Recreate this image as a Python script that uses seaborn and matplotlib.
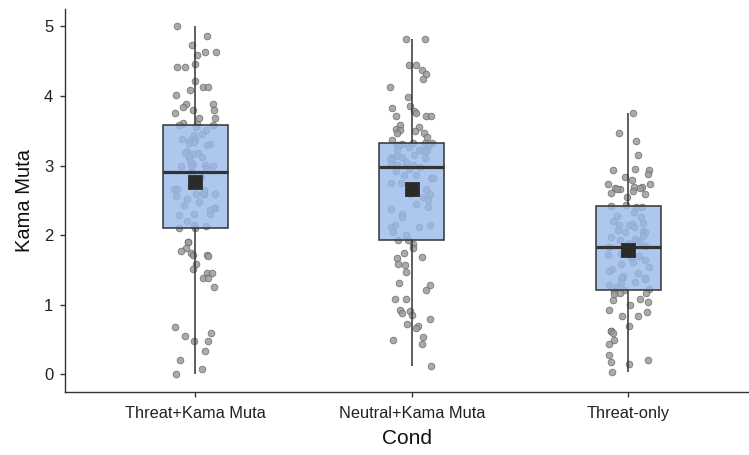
import numpy as np
import pandas as pd
import matplotlib.pyplot as plt
import seaborn as sns

# condition order on the x axis
conds = ["Threat+Kama Muta", "Neutral+Kama Muta", "Threat-only"]

# Kama Muta scores, one list per condition
threat_km = [
    5.00, 4.87, 4.73, 4.63, 4.63, 4.59, 4.46, 4.42, 4.42, 4.21, 4.13, 4.13, 4.09,
    4.01, 3.88, 3.88, 3.84, 3.80, 3.80, 3.75, 3.68, 3.68, 3.62, 3.60, 3.58, 3.58,
    3.56, 3.51, 3.46, 3.44, 3.39, 3.38, 3.37, 3.34, 3.32, 3.31, 3.30, 3.21, 3.18,
    3.18, 3.17, 3.13, 3.13, 3.06, 3.03, 3.01, 2.99, 2.99, 2.99, 2.96, 2.91, 2.89,
    2.84, 2.79, 2.74, 2.66, 2.66, 2.65, 2.59, 2.59, 2.59, 2.59, 2.56, 2.52, 2.48,
    2.44, 2.39, 2.39, 2.36, 2.31, 2.30, 2.29, 2.20, 2.15,
    2.13, 2.11, 2.10, 1.90, 1.90, 1.82, 1.78, 1.75, 1.71, 1.71, 1.70, 1.58, 1.51,
    1.46, 1.45, 1.38, 1.38, 1.25, 0.68, 0.59, 0.55, 0.48, 0.48, 0.34, 0.20, 0.07,
    0.00,
]
neutral_km = [
    4.82, 4.82, 4.45, 4.44, 4.37, 4.31, 4.24, 4.13, 3.98, 3.86, 3.83, 3.79, 3.75,
    3.71, 3.71, 3.71, 3.58, 3.55, 3.53, 3.51, 3.50, 3.47, 3.47, 3.41, 3.37,
    3.33, 3.33, 3.32, 3.31, 3.29, 3.29, 3.29, 3.29, 3.27, 3.23, 3.23, 3.23, 3.23,
    3.20, 3.15, 3.14, 3.12, 3.12, 3.11, 3.10, 3.09, 3.05, 3.01, 3.01, 3.01, 3.01,
    2.98,
    2.95, 2.93, 2.87, 2.87, 2.82, 2.82, 2.75, 2.75, 2.67, 2.59, 2.59, 2.55, 2.50,
    2.45, 2.40, 2.37, 2.30, 2.26, 2.15, 2.15, 2.12, 2.12, 2.04, 2.00, 1.93, 1.93,
    1.87, 1.81, 1.75, 1.68, 1.67, 1.58, 1.57, 1.47, 1.32, 1.28, 1.21, 1.09, 1.08,
    0.93, 0.91, 0.88, 0.86, 0.79, 0.73, 0.69, 0.67, 0.54, 0.50, 0.43, 0.12,
]
threat_only = [
    3.75, 3.47, 3.35, 3.16, 2.95, 2.94, 2.94, 2.88, 2.83, 2.80, 2.74, 2.74, 2.70,
    2.70, 2.68, 2.68, 2.67, 2.67, 2.64, 2.60, 2.59, 2.55, 2.43, 2.42, 2.41, 2.41,
    2.33, 2.28, 2.26, 2.20, 2.18, 2.16, 2.14, 2.14, 2.12, 2.08, 2.06, 2.05, 2.04,
    1.99, 1.97, 1.94, 1.93, 1.91, 1.89, 1.88,
    1.84, 1.83, 1.76, 1.73, 1.71, 1.70, 1.69, 1.65, 1.62, 1.58, 1.55, 1.51, 1.48,
    1.45, 1.42, 1.39, 1.39, 1.38, 1.37, 1.33, 1.31, 1.28, 1.25, 1.23,
    1.21, 1.20, 1.17, 1.17, 1.16, 1.09, 1.07, 1.04, 1.00, 0.92, 0.89, 0.84, 0.84,
    0.69, 0.62, 0.62, 0.60, 0.50, 0.43, 0.28, 0.21, 0.18, 0.15, 0.04,
]

df = pd.DataFrame({
    "Cond": [conds[0]] * len(threat_km) + [conds[1]] * len(neutral_km)
            + [conds[2]] * len(threat_only),
    "Kama Muta": threat_km + neutral_km + threat_only,
})

sns.set_theme(style="ticks")
plt.rcParams['font.family'] = ['Liberation Sans', 'DejaVu Sans']

fig = plt.figure(figsize=(7.49, 4.55), dpi=100)
ax = fig.add_axes([0.087, 0.139, 0.913, 0.841])

# jittered raw points first, so the boxes sit on top of them
np.random.seed(7)
sns.stripplot(data=df, x="Cond", y="Kama Muta", order=conds, jitter=0.1,
              size=4.8, color="#9b9b9b", edgecolor="#6a6a6a", linewidth=0.6,
              alpha=0.85, zorder=1, ax=ax)

sns.boxplot(data=df, x="Cond", y="Kama Muta", order=conds, width=0.3,
            whis=(0, 100), showcaps=False, showfliers=False,
            linecolor="#333333", linewidth=1.1,
            medianprops=dict(linewidth=2.3, color="#333333"),
            whiskerprops=dict(linewidth=1.1, color="#333333"), ax=ax)
for p in ax.patches:
    p.set_facecolor((0.60, 0.73, 0.925, 0.8))
    p.set_zorder(2)

# group means as dark squares
sns.pointplot(data=df, x="Cond", y="Kama Muta", order=conds, estimator="mean",
              errorbar=None, linestyles="none", markers="s", markersize=8,
              color="#2b2b2b", ax=ax, zorder=4)

ax.set_xlim(-0.6, 2.557)
ax.set_ylim(-0.25, 5.25)
ax.set_yticks([0, 1, 2, 3, 4, 5])
sns.despine(ax=ax)
for s in ["left", "bottom"]:
    ax.spines[s].set_color("#333333")
    ax.spines[s].set_linewidth(1.0)
ax.tick_params(axis="both", length=3.5, width=1.0, color="#333333",
               labelcolor="#222222")
ax.tick_params(axis="x", labelsize=11.8, pad=6.5)
ax.tick_params(axis="y", labelsize=12, pad=5)
ax.set_xlabel("Cond", fontsize=15, color="#111111", labelpad=6)
ax.set_ylabel("Kama Muta", fontsize=14.5, color="#111111", labelpad=7)

fig.savefig("out.png", dpi=100)
